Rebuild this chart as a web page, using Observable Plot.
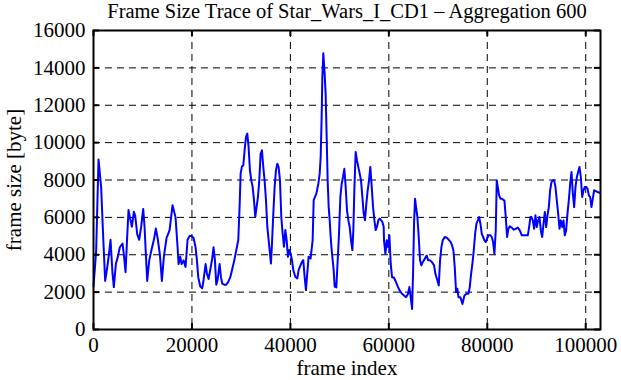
<!DOCTYPE html>
<html><head><meta charset="utf-8">
<script src="https://cdn.jsdelivr.net/npm/d3@7"></script>
<script src="https://cdn.jsdelivr.net/npm/@observablehq/plot@0.6"></script>
<style>body{margin:0;background:#fff}</style>
</head><body><div id="chart"></div>
<script>
const title = "Frame Size Trace of Star_Wars_I_CD1 \u2013 Aggregation 600";
const xLabel = "frame index";
const yLabel = "frame size [byte]";
const xTicks = [0, 20000, 40000, 60000, 80000, 100000];
const yTicks = [0, 2000, 4000, 6000, 8000, 10000, 12000, 14000, 16000];

const frameIndex = [
0,540,1020,1560,1960,2370,2780,3120,3460,3860,4130,4540,4950,5350,5900,6170,6510,6850,7120,7390,7800,8200,8470,8880,9280,9690,10100,10370,10640,10910,11320,11730,12270,12670,13080,13490,13890,14300,
14840,15450,16060,16670,17080,17280,17620,17890,18300,18700,19110,19520,19920,20330,20740,21010,21280,21690,22090,22360,22770,23040,23380,23720,24120,24390,24670,24940,25210,25620,25890,26160,26560,26970,27380,27790,28200,28600,29010,
29410,29680,29890,30160,30430,30700,30970,31240,31510,31780,32060,32330,32600,32870,33140,33410,33680,33950,34220,34490,34760,35040,35310,35580,35850,36050,36260,36530,36800,37070,37340,37610,37880,38150,38420,38700,38970,39240,39510,39780,40050,40320,40590,40990,41400,41670,41940,42350,42620,42890,43160,43430,43700,44110,
44520,44730,45000,45270,45680,45950,46150,46350,46490,46690,46960,47160,47370,47570,47780,47980,48180,48390,48590,48790,49000,49330,49610,49880,50150,50420,50690,50960,51230,51500,51770,52040,52320,52590,52790,52990,53260,53530,53800,54080,54350,54620,54890,55160,55430,55700,55970,56240,56520,56790,57060,57330,57600,57870,58140,58410,58680,58950,
59020,59300,59570,59840,60110,60380,60650,61060,61460,61870,62280,62680,63090,63500,63900,64170,64440,64720,64920,65120,65320,65530,65800,66070,66340,66610,66880,67290,67700,67970,68380,68780,69190,69460,69870,70140,70410,70680,70950,71360,71770,72180,72580,72850,73120,73390,73660,73930,
74140,74540,74950,75360,75760,76170,76440,76710,76980,77250,77530,77800,78070,78340,78610,78880,79150,79420,79690,79960,80230,80640,80910,81180,81450,81720,81920,82130,82400,82670,82940,83210,83480,83750,84020,84300,84570,84970,85380,85790,86190,86600,87010,87420,87820,88230,88500,88770,
88980,89250,89520,89790,90060,90330,90600,90880,91150,91420,91690,91960,92230,92500,92770,93040,93310,93580,93850,94120,94400,94670,94940,95210,95480,95750,96020,96290,96560,96840,97110,97380,97650,97920,98190,98460,98730,99000,99280,99550,99820,100090,100360,100630,100900,101170,101440,101710,101980,102390,102800
];
const frameSize = [
2300,4200,9100,7600,5000,2600,3300,4000,4800,3000,2270,3500,3900,4400,4600,4000,3070,5000,6400,6000,5500,6300,6100,5100,4800,5500,6450,5500,4000,2600,3700,4200,4800,5400,4800,4000,2600,3900,
4900,5300,6650,6000,4400,3500,3900,3500,3700,3350,4800,5000,5000,4900,4400,3700,2800,2300,2200,2650,3500,3000,2700,3200,3800,4400,3700,2400,2650,3500,2800,2450,2400,2400,2550,2800,3250,3700,4250,
4780,6560,8340,8730,8780,9590,10300,10480,9760,8520,7980,7630,6920,6030,6560,7100,7980,9400,9590,8700,7980,6920,5500,4780,4070,3530,4600,6200,7630,8520,8870,8700,7980,6030,5140,4430,5320,4780,3890,4250,4070,3710,3180,2820,2730,3180,3360,3620,3710,2820,2110,3000,3890,3800,
4780,6920,7100,7270,7800,8340,9230,11370,13500,14780,13680,12610,10300,7980,6560,5850,4960,4250,3710,3180,2290,2250,3710,5140,7100,7800,8160,8600,7630,6380,5850,5500,4780,4250,5320,7450,9500,9050,8700,8340,7980,7100,6200,5850,6740,7450,7980,8700,7630,6560,5850,5320,5500,5850,5940,5850,5760,5500,
4770,4050,4770,4410,5040,3520,2800,2770,2530,2270,2050,1910,1820,1730,1910,2270,1730,1100,3000,5660,7000,6550,6020,4950,3700,3430,3600,3780,3960,3700,3700,3600,3430,2980,2620,2350,3700,4410,4770,4950,4910,4800,4680,4500,4230,3340,2000,2180,
1730,1730,1370,1820,1910,1910,2270,2980,3520,4230,5120,5660,5840,6020,5660,5120,4950,4770,4680,4860,5040,5040,4950,4680,4050,5300,7980,7630,7180,7000,7000,6950,6900,6020,4950,5390,5520,5450,5340,5390,5450,5300,5040,5040,5040,5040,5480,6020,
6020,5840,5390,6110,5480,5840,6020,5300,4950,5660,6290,5480,6110,6550,7450,7890,7980,7980,7630,6910,6200,5390,5840,5480,5840,5040,5300,6200,6910,7800,8430,7270,6550,7630,8160,8430,8700,8160,7090,7450,7630,7630,7540,7180,7090,6550,7000,7450,7410,7360,7320
];

const data = frameIndex.map((f, i) => ({frame: f, size: frameSize[i]}));
const fontFamily = "'Liberation Serif', 'DejaVu Serif', serif";

const chart = Plot.plot({
  width: 621,
  height: 380,
  marginLeft: 93,
  marginRight: 21,
  marginTop: 30,
  marginBottom: 51,
  style: {fontFamily, fontSize: "21px", background: "white", color: "black", overflow: "visible"},
  x: {domain: [0, 103000], ticks: xTicks, tickFormat: d => String(d), tickSize: 0, tickPadding: 8,
      label: xLabel, labelAnchor: "center", labelOffset: 45, labelArrow: "none"},
  y: {domain: [0, 16000], ticks: yTicks, tickFormat: d => String(d), tickSize: 0, tickPadding: 8,
      label: yLabel, labelAnchor: "center", labelOffset: 87, labelArrow: "none"},
  marks: [
    Plot.ruleX(xTicks.slice(1), {stroke: "black", strokeWidth: 1, strokeDasharray: "7,5"}),
    Plot.ruleY(yTicks.slice(1, -1), {stroke: "black", strokeWidth: 1, strokeDasharray: "7,5"}),
    Plot.line(data, {x: "frame", y: "size", stroke: "#0000ff", strokeWidth: 2}),
    Plot.ruleX(xTicks, {stroke: "black", strokeWidth: 2, insetTop: 293}),
    Plot.ruleX(xTicks, {stroke: "black", strokeWidth: 2, insetBottom: 293}),
    Plot.ruleY(yTicks, {stroke: "black", strokeWidth: 2, insetRight: 501}),
    Plot.ruleY(yTicks, {stroke: "black", strokeWidth: 2, insetLeft: 501}),
    Plot.frame({stroke: "black", strokeWidth: 2}),
    Plot.text([title], {frameAnchor: "top", lineAnchor: "middle", dy: -19, fontSize: 20.5, fill: "black"})
  ]
});
document.getElementById("chart").appendChild(chart);
</script>
</body></html>
